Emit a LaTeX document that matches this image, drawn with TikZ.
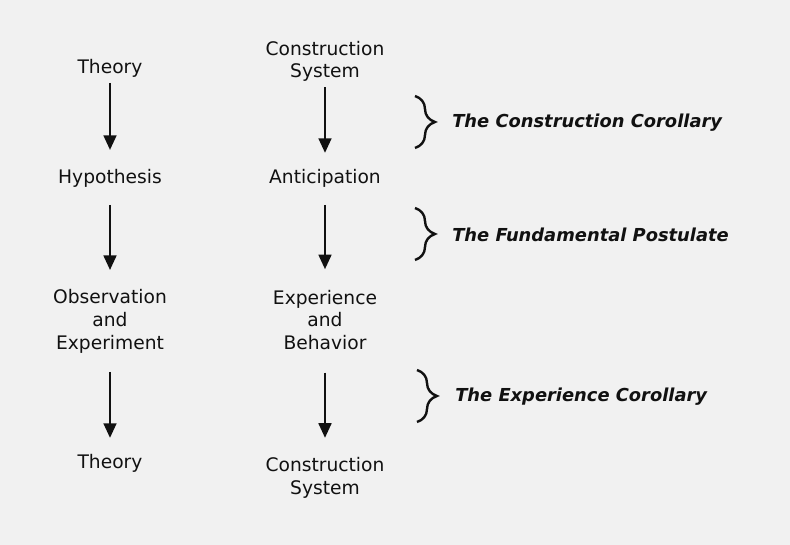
\documentclass[tikz,border=0pt]{standalone}
\usepackage{fontspec}
\setmainfont{DejaVu Sans}
\usepackage{xcolor}
\usepackage{tikz}
\usetikzlibrary{arrows.meta,decorations.pathreplacing}
\definecolor{Paper}{HTML}{F1F1F1}
\definecolor{Ink}{HTML}{111111}

\begin{document}
\begin{tikzpicture}[x=0.75pt,y=-0.75pt,
  stage/.style={align=center,inner sep=0pt,font=\fontsize{14}{17}\selectfont,text=Ink},
  law/.style={anchor=west,inner sep=0pt,font=\fontsize{13.4}{16}\selectfont\bfseries\itshape,text=Ink},
  flow/.style={-{Triangle[length=11pt,width=9.5pt]},line width=2pt,color=Ink},
  curly/.style={decorate,decoration={brace,amplitude=15pt},line width=1.8pt,color=Ink}
]
\fill[Paper] (0,0) rectangle (790,545);
% left column
\node[stage] (t1) at (110,68.5) {Theory};
\node[stage] (h) at (110,178.5) {Hypothesis};
\node[stage] (o) at (110,321.5) {Observation\\and\\Experiment};
\node[stage] (t2) at (110,463.5) {Theory};
% right column
\node[stage] (c1) at (325,61.5) {Construction\\System};
\node[stage] (a) at (325,178.5) {Anticipation};
\node[stage] (e) at (325,320) {Experience\\and\\Behavior};
\node[stage] (c2) at (325,478) {Construction\\System};
\foreach \a/\b/\s/\e in {t1/h/3.9/14.4,h/o/12.9/14.6,o/t2/13.9/12.2,
                         c1/a/3.7/12.2,a/e/12.9/15.4,e/c2/16.9/14.6}
  \draw[flow,shorten <=\s pt,shorten >=\e pt] (\a) -- (\b);
% corollaries
\coordinate (b1t) at (415,96);  \coordinate (b1b) at (415,148);
\coordinate (b2t) at (415,208); \coordinate (b2b) at (415,260);
\coordinate (b3t) at (417,370); \coordinate (b3b) at (417,422);
\draw[curly] (b1t) -- (b1b);
\draw[curly] (b2t) -- (b2b);
\draw[curly] (b3t) -- (b3b);
\node[law] (l1) at (452,123) {The Construction Corollary};
\node[law] (l2) at (452,235) {The Fundamental Postulate};
\node[law] (l3) at (455,397) {The Experience Corollary};
\end{tikzpicture}
\end{document}
